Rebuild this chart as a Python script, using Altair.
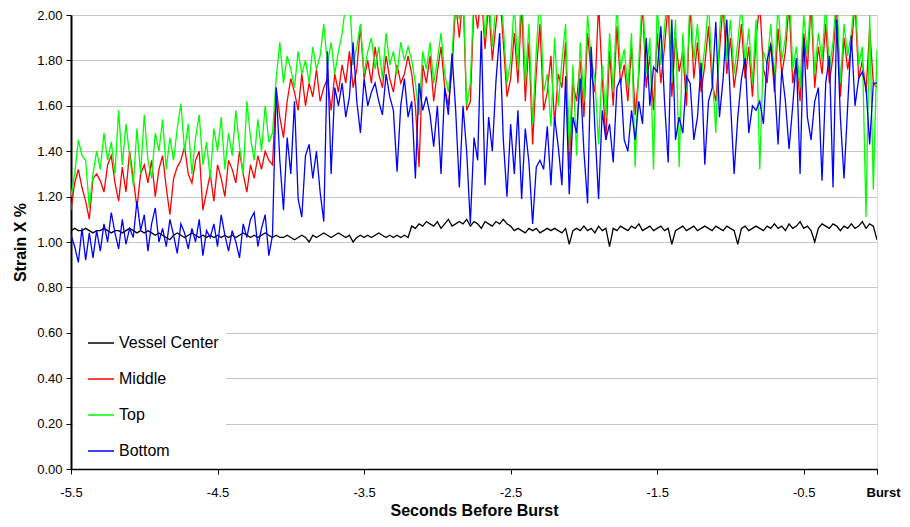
import altair as alt
import pandas as pd

series_names = ["Vessel Center", "Middle", "Top", "Bottom"]
series_colors = ["#000000", "#ff0000", "#00ff00", "#0000ff"]
x_ticks = [-5.5, -4.5, -3.5, -2.5, -1.5, -0.5, 0.0]
y_ticks = [0.0, 0.2, 0.4, 0.6, 0.8, 1.0, 1.2, 1.4, 1.6, 1.8, 2.0]
t_start, t_end = -5.5, 0.0

vessel_center = [
    1.05, 1.06, 1.05, 1.05, 1.06, 1.05, 1.04, 1.05, 1.05, 1.06,
    1.05, 1.04, 1.05, 1.05, 1.04, 1.05, 1.06, 1.05, 1.04, 1.05,
    1.04, 1.05, 1.04, 1.03, 1.04, 1.03, 1.02, 1.01, 1.03, 1.04,
    1.03, 1.02, 1.03, 1.04, 1.03, 1.02, 1.03, 1.02, 1.03, 1.02,
    1.03, 1.02, 1.03, 1.02, 1.03, 1.02, 1.03, 1.04, 1.03, 1.02,
    1.03, 1.02, 1.03, 1.04, 1.03, 1.02,
    1.03, 1.02, 1.02, 1.03, 1.02, 1.01, 1.02, 1.03, 1.02, 1.00,
    1.03, 1.02, 1.03, 1.04, 1.03, 1.02, 1.03, 1.04, 1.03, 1.02,
    1.03, 1.00, 1.02, 1.03, 1.02, 1.03, 1.02, 1.03, 1.04, 1.03,
    1.02, 1.03, 1.02, 1.03, 1.02, 1.03, 1.02,
    1.07, 1.06, 1.08, 1.07, 1.09, 1.08, 1.07, 1.09, 1.06, 1.08,
    1.10, 1.07, 1.08, 1.09, 1.08, 1.10, 1.07, 1.09, 1.08, 1.06,
    1.09, 1.08, 1.07, 1.09, 1.08, 1.10, 1.08, 1.07,
    1.05, 1.06, 1.05, 1.04, 1.06, 1.05, 1.06, 1.04, 1.05, 1.06,
    1.05, 1.06, 1.05, 1.04, 1.06, 0.99, 1.05, 1.06, 1.05, 1.07,
    1.05, 1.06, 1.04, 1.07, 1.05, 1.06, 0.98, 1.06, 1.05, 1.07,
    1.06, 1.05, 1.07, 1.06, 1.08, 1.05, 1.06, 1.07, 1.05, 1.06,
    1.07, 1.05, 1.06, 0.99, 1.05, 1.06, 1.07, 1.05, 1.06, 1.07,
    1.05, 1.06, 1.07, 1.06, 1.05, 1.07, 1.06, 1.05, 1.07, 1.06,
    1.05, 0.99, 1.06, 1.07, 1.05, 1.06, 1.07, 1.06, 1.05, 1.07,
    1.06, 1.08, 1.06, 1.07, 1.05, 1.08, 1.06, 1.07, 1.09, 1.06,
    1.07, 1.05, 1.00, 1.06, 1.08, 1.07, 1.06, 1.08, 1.07, 1.05,
    1.07, 1.06, 1.08, 1.06, 1.07, 1.09, 1.06, 1.08, 1.07, 1.01,
]

middle = [
    1.14, 1.26, 1.32, 1.24, 1.18, 1.10, 1.28, 1.30, 1.27, 1.22,
    1.34, 1.38, 1.26, 1.18, 1.33, 1.22, 1.40, 1.28, 1.15, 1.30,
    1.34, 1.26, 1.36, 1.20, 1.32, 1.38, 1.24, 1.12, 1.28, 1.33,
    1.36, 1.42, 1.30, 1.26, 1.36, 1.40, 1.14, 1.22, 1.30, 1.18,
    1.34, 1.28, 1.20, 1.36, 1.32, 1.26, 1.40, 1.30, 1.22, 1.34,
    1.28, 1.38, 1.32, 1.40, 1.36, 1.34,
    1.68, 1.55, 1.46, 1.62, 1.72, 1.66, 1.58, 1.74, 1.60, 1.70,
    1.64, 1.76, 1.62, 1.68, 1.72, 1.58, 1.74, 1.66, 1.78, 1.70,
    1.84, 1.68, 1.76, 1.95, 1.72, 1.80, 1.70, 1.86, 1.74, 1.68,
    1.82, 1.72, 1.66, 1.78, 1.70, 1.74, 1.82,
    1.74, 1.60, 1.33, 1.78, 1.70, 1.82, 1.62, 1.75, 1.86, 1.68,
    1.60, 1.76, 2.05, 1.90, 2.10, 1.58, 1.62, 2.05, 1.94, 2.10,
    1.85, 2.05, 1.80, 1.96, 2.10, 1.88, 1.64, 1.72,
    1.92, 1.70, 2.05, 1.62, 1.88, 1.43, 1.75, 1.96, 1.58, 1.66,
    1.82, 1.52, 1.74, 1.68, 1.88, 1.32, 1.70, 1.62, 1.80, 1.55,
    1.92, 1.74, 1.66, 2.05, 1.72, 1.45, 1.84, 1.60, 1.95, 1.70,
    1.78, 1.62, 1.86, 1.56, 1.74, 2.05, 1.68, 1.82, 1.58, 1.92,
    1.70, 1.86, 2.05, 1.64, 1.90, 1.75, 1.84, 1.60, 2.05, 1.72,
    1.88, 1.66, 1.78, 1.95, 1.70, 1.62, 1.84, 2.05, 1.74, 1.90,
    1.68, 1.80, 1.96, 1.72, 1.86, 1.64, 1.90, 2.05, 1.76, 1.70,
    1.88, 1.66, 1.94, 1.74, 1.84, 2.05, 1.70, 1.80, 1.62, 1.92,
    1.76, 2.05, 1.68, 1.86, 1.74, 1.96, 1.70, 1.82, 2.05, 1.64,
    1.90, 1.76, 1.86, 2.05, 1.72, 1.80, 1.66, 1.94, 1.70, 1.68,
]

top = [
    1.20, 1.30, 1.45, 1.38, 1.36, 1.15, 1.30, 1.40, 1.32, 1.48,
    1.36, 1.44, 1.30, 1.58, 1.34, 1.52, 1.38, 1.25, 1.50, 1.30,
    1.56, 1.36, 1.28, 1.48, 1.40, 1.54, 1.32, 1.46, 1.36, 1.50,
    1.61, 1.40, 1.52, 1.30, 1.46, 1.56, 1.34, 1.44, 1.28, 1.50,
    1.40, 1.55, 1.32, 1.48, 1.38, 1.58, 1.42, 1.30, 1.62, 1.46,
    1.36, 1.54, 1.40, 1.60, 1.44, 1.48,
    1.72, 1.88, 1.70, 1.82, 1.76, 1.68, 1.84, 1.74, 1.80, 1.70,
    1.86, 1.76, 1.82, 1.96, 1.78, 1.88, 1.74, 1.84, 1.92, 2.05,
    2.10, 1.78, 1.86, 1.96, 1.74, 1.84, 1.90, 1.76, 1.86, 1.72,
    1.92, 1.78, 1.84, 1.74, 1.88, 1.80, 1.86,
    1.80, 1.70, 1.56, 1.84, 1.76, 1.88, 1.70, 1.80, 1.92, 1.74,
    1.66, 1.82, 2.10, 1.98, 2.15, 1.60, 1.70, 2.10, 2.00, 2.15,
    1.90, 2.10, 1.86, 2.05, 2.15, 1.95, 1.70, 1.80,
    2.05, 1.76, 2.15, 1.70, 1.96, 1.52, 1.84, 2.10, 1.66, 1.74,
    1.51, 1.90, 1.60, 1.80, 1.96, 1.40, 1.78, 1.38, 1.88, 1.62,
    2.00, 1.80, 1.72, 1.43, 1.78, 1.55, 1.92, 1.66, 2.05, 1.76,
    1.85, 1.68, 1.92, 1.33, 1.80, 2.10, 1.74, 1.90, 1.32, 2.05,
    1.78, 1.94, 2.15, 1.70, 1.98, 1.33, 1.92, 1.66, 2.10, 1.80,
    1.96, 1.72, 1.86, 2.05, 1.76, 1.48, 1.92, 2.15, 1.80, 1.98,
    1.74, 1.88, 2.05, 1.78, 1.94, 1.70, 1.98, 1.32, 1.84, 1.78,
    1.96, 1.72, 2.05, 1.80, 1.90, 2.15, 1.76, 1.86, 1.68, 2.00,
    1.82, 2.10, 1.74, 1.92, 1.80, 2.05, 1.76, 1.88, 2.10, 1.70,
    1.96, 1.82, 1.92, 2.10, 1.78, 1.86, 1.11, 2.00, 1.23, 1.85,
]

bottom = [
    1.03, 0.98, 0.91, 1.06, 0.92, 1.04, 0.93, 1.05, 0.96, 1.08,
    1.00, 1.13, 1.04, 0.97, 1.10, 0.99, 1.06, 1.02, 1.18, 1.05,
    1.12, 0.96, 1.08, 1.15, 1.00, 1.06, 0.98, 1.10, 1.03, 0.95,
    1.08, 1.04, 0.97, 1.06, 1.00, 1.10, 0.94, 1.05, 1.02, 1.08,
    0.98, 1.12, 1.03, 0.96, 1.05, 1.00, 0.93, 1.08, 1.02, 1.10,
    1.13, 0.98, 1.06, 1.12, 0.94, 1.03,
    1.68, 1.36, 1.14, 1.46, 1.30, 1.62, 1.19, 1.11, 1.38, 1.43,
    1.28, 1.40, 1.22, 1.09, 1.84, 1.30, 1.68, 1.60, 1.70, 1.55,
    1.64, 1.88, 1.62, 1.48, 1.72, 1.60, 1.66, 1.70, 1.62, 1.56,
    1.74, 1.64, 1.58, 1.31, 1.60, 1.72, 1.55,
    1.62, 1.28, 1.70, 1.58, 1.64, 1.56, 1.42, 1.60, 1.30, 1.68,
    1.56, 1.83, 1.58, 1.24, 1.60, 1.40, 1.08, 1.46, 1.36, 1.93,
    1.25, 1.55, 1.40, 1.71, 1.92, 1.45, 1.20, 1.52,
    1.30, 1.58, 1.19, 1.50, 1.35, 1.08, 1.33, 1.36, 1.32, 1.51,
    1.25, 1.55, 1.42, 1.25, 1.73, 1.21, 1.55, 1.48, 1.72, 1.40,
    1.17, 1.86, 1.50, 1.19, 1.58, 1.45, 1.52, 1.35, 1.68, 1.72,
    1.45, 1.40, 1.58, 1.45, 1.62, 1.52, 1.90, 1.60, 1.77, 1.75,
    1.95, 1.62, 1.35, 1.98, 1.45, 1.55, 1.48, 1.73, 1.70, 1.45,
    1.55, 1.79, 1.34, 1.62, 1.68, 1.97, 1.55, 1.72, 1.98, 1.62,
    1.30, 1.55, 1.72, 1.81, 1.48, 1.60, 1.58, 1.62, 1.52, 1.80,
    1.87, 1.71, 1.43, 1.76, 1.62, 1.41, 1.60, 1.81, 1.30, 1.90,
    1.55, 1.45, 1.62, 1.68, 1.27, 1.70, 1.82, 1.24, 1.98, 1.55,
    1.28, 1.60, 1.91, 1.60, 1.72, 1.75, 1.68, 1.43, 1.70, 1.70,
]

rows = []
for name, vals in zip(series_names, [vessel_center, middle, top, bottom]):
    n = len(vals)
    for i, v in enumerate(vals):
        rows.append({"t": t_start + (t_end - t_start) * i / (n - 1),
                     "strain": v, "series": name})
df = pd.DataFrame(rows)

FONT = "Liberation Sans"
is_burst = "datum.value == 0"

chart = alt.Chart(df).mark_line(clip=True, strokeWidth=1.3).encode(
    x=alt.X(
        "t:Q",
        scale=alt.Scale(domain=[t_start, t_end], nice=False, zero=False),
        axis=alt.Axis(
            values=x_ticks,
            title="Seconds Before Burst",
            titleFont=FONT, titleFontSize=16, titleFontWeight="bold",
            titleColor="#000000", titlePadding=3,
            labelExpr="datum.value == 0 ? 'Burst' : toString(datum.value)",
            labelFont=FONT, labelFontSize=13, labelColor="#000000",
            labelFontWeight={"condition": {"test": is_burst, "value": "bold"}, "value": "normal"},
            labelOffset={"condition": {"test": is_burst, "value": 6}, "value": 0},
            labelPadding=12, labelBound=False, labelOverlap=False, labelFlush=False,
            tickSize=5, tickColor="#000000", tickWidth=1,
            domainColor="#000000", domainWidth=1.5, grid=False,
        ),
    ),
    y=alt.Y(
        "strain:Q",
        scale=alt.Scale(domain=[0, 2], nice=False, zero=True),
        axis=alt.Axis(
            values=y_ticks, format=".2f",
            title="Strain X %",
            titleFont=FONT, titleFontSize=16, titleFontWeight="bold",
            titleColor="#000000", titlePadding=8,
            labelFont=FONT, labelFontSize=13, labelColor="#000000",
            labelPadding=4, tickSize=5, tickColor="#000000",
            domainColor="#000000", domainWidth=2,
            grid=True, gridColor="#c6c6c6", gridWidth=1,
        ),
    ),
    color=alt.Color(
        "series:N",
        scale=alt.Scale(domain=series_names, range=series_colors),
        legend=alt.Legend(
            title=None, orient="none", legendX=2, legendY=307,
            fillColor="#ffffff", padding=7,
            symbolType="stroke", symbolSize=676, symbolStrokeWidth=1.5,
            symbolOffset=7,
            labelFont=FONT, labelFontSize=16, labelColor="#000000",
            labelOffset=4, rowPadding=14,
        ),
    ),
).properties(
    width=806, height=454,
    autosize=alt.AutoSizeParams(type="none"),
    padding={"left": 63, "top": 7, "right": 25, "bottom": 50},
).configure_view(
    stroke="#808080", strokeWidth=1,
).configure(background="#ffffff")

chart.save("out.html", embed_options={"renderer": "svg", "actions": False})
